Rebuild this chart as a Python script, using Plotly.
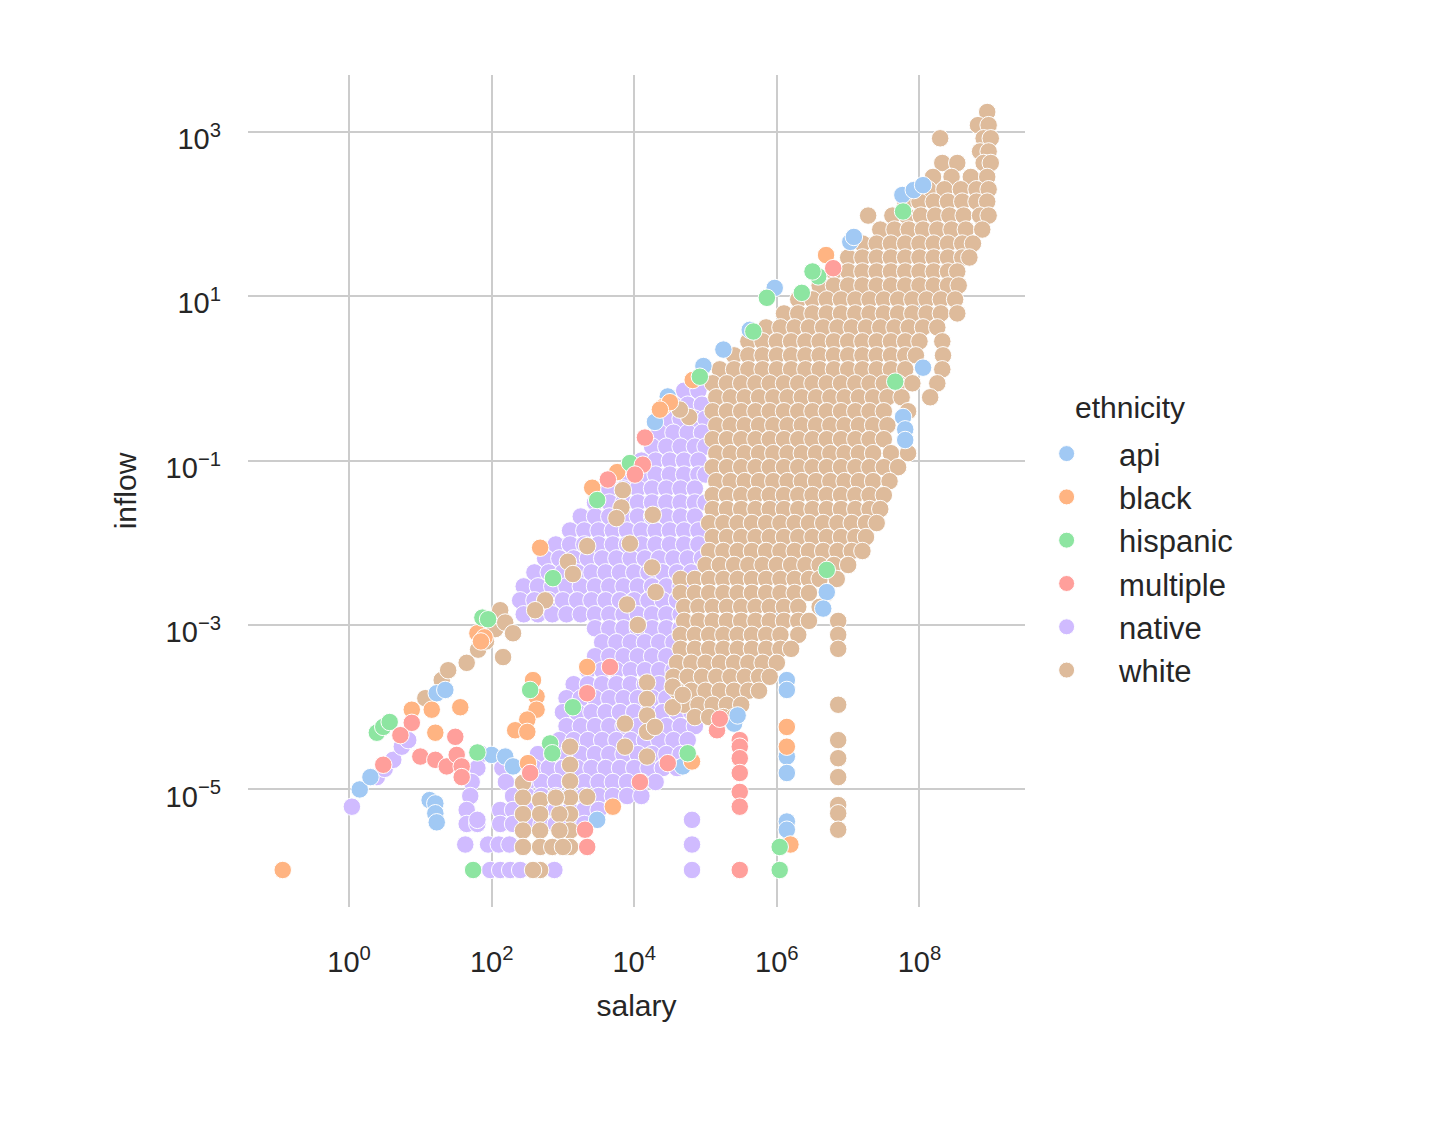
import numpy as np
import plotly.graph_objects as go

# all values below are log10(salary), log10(inflow)

api_pts = [(0.15, -5.0), (0.3, -4.85), (1.13, -5.13), (1.21, -5.17), (1.21, -5.29), (1.23, -5.4),
           (1.23, -3.83), (1.35, -3.79), (2.0, -4.58), (2.19, -4.6), (2.3, -4.72), (4.68, -4.72),
           (5.4, -4.2), (5.45, -4.1), (6.14, -3.67), (6.14, -3.79), (6.14, -4.6), (6.14, -4.8),
           (6.14, -5.39), (6.14, -5.49), (5.97, 1.1), (7.03, 1.66), (7.08, 1.72), (5.62, 0.59),
           (5.25, 0.35), (4.97, 0.15), (4.47, -0.22), (4.29, -0.53), (8.05, 0.13), (7.77, -0.47),
           (7.8, -0.62), (7.8, -0.75), (7.76, 2.23), (7.92, 2.29), (8.05, 2.35), (3.48, -5.37),
           (6.7, -2.6), (6.65, -2.8)]

black_pts = [(-0.93, -5.98), (1.56, -4.0), (1.21, -4.31), (1.16, -4.03), (0.88, -4.03),
             (1.8, -3.1), (1.9, -3.15), (1.85, -3.2), (2.58, -3.67), (2.63, -3.87), (2.63, -4.03),
             (2.5, -4.15), (2.33, -4.28), (2.5, -4.3), (2.51, -4.68), (3.34, -3.51), (4.81, -4.66),
             (3.7, -5.21), (6.14, -4.24), (6.14, -4.48), (6.19, -5.67), (6.69, 1.5), (4.4, -0.35),
             (4.5, -0.29), (4.82, -0.02), (3.41, -1.33), (3.76, -1.14), (2.68, -2.06), (4.36, -0.38)]

hispanic_pts = [(0.39, -4.31), (0.48, -4.24), (0.57, -4.18), (1.8, -4.55), (2.54, -3.79),
                (2.82, -4.44), (2.85, -4.56), (1.74, -5.98), (1.87, -2.91), (1.95, -2.93),
                (3.14, -4.0), (4.75, -4.56), (6.04, -5.7), (6.04, -5.98), (5.86, 0.98), (6.35, 1.04),
                (6.58, 1.24), (5.67, 0.57), (6.5, 1.3), (7.77, 2.03), (4.92, 0.02), (3.94, -1.03),
                (3.48, -1.48), (2.86, -2.43), (6.7, -2.33), (7.66, -0.04)]

multiple_pts = [(0.88, -4.19), (0.72, -4.34), (0.48, -4.7), (1.0, -4.6), (1.21, -4.64),
                (1.37, -4.72), (1.49, -4.36), (1.51, -4.58), (1.58, -4.72), (1.58, -4.85),
                (3.34, -3.83), (2.54, -4.8), (3.31, -5.49), (3.34, -5.7), (3.66, -3.51), (4.08, -4.91),
                (4.47, -4.68), (5.16, -4.28), (5.2, -4.14), (5.48, -4.4), (5.48, -4.48), (5.48, -4.62),
                (5.48, -4.8), (5.48, -5.03), (5.48, -5.21), (5.48, -5.98), (6.79, 1.34), (4.15, -0.72),
                (4.12, -1.05), (4.01, -1.17), (3.63, -1.23)]

native_rows = [
    (-0.15, [4.7, 4.9]),
    (-0.32, [4.55, 4.75, 4.95]),
    (-0.49, [4.45, 4.65, 4.85, 5.0]),
    (-0.66, [4.35, 4.55, 4.75, 4.95]),
    (-0.83, [4.25, 4.45, 4.65, 4.85, 5.0]),
    (-1.0, [4.1, 4.3, 4.5, 4.7, 4.9]),
    (-1.17, [3.9, 4.1, 4.3, 4.5, 4.7, 4.9, 5.0]),
    (-1.34, [3.65, 3.85, 4.05, 4.25, 4.45, 4.65, 4.85]),
    (-1.51, [3.45, 3.65, 3.85, 4.05, 4.25, 4.45, 4.65, 4.85, 5.0]),
    (-1.68, [3.25, 3.45, 3.65, 3.85, 4.05, 4.25, 4.45, 4.65, 4.85]),
    (-1.85, [3.1, 3.3, 3.5, 3.7, 3.9, 4.1, 4.3, 4.5, 4.7, 4.9]),
    (-2.02, [2.9, 3.1, 3.3, 3.5, 3.7, 3.9, 4.1, 4.3, 4.5, 4.7, 4.9]),
    (-2.19, [2.75, 2.95, 3.15, 3.35, 3.55, 3.75, 3.95, 4.15, 4.35, 4.55, 4.75, 4.95]),
    (-2.36, [2.6, 2.8, 3.0, 3.2, 3.4, 3.6, 3.8, 4.0, 4.2, 4.4, 4.6, 4.8]),
    (-2.53, [2.45, 2.65, 2.85, 3.05, 3.25, 3.45, 3.65, 3.85, 4.05, 4.25, 4.45, 4.65]),
    (-2.7, [2.4, 2.6, 2.8, 3.0, 3.2, 3.4, 3.6, 3.8, 4.0, 4.2, 4.4, 4.6]),
    (-2.87, [2.45, 2.65, 2.85, 3.05, 3.25, 3.45, 3.65, 3.85, 4.05, 4.25, 4.45, 4.65]),
    (-3.04, [3.45, 3.65, 3.85, 4.05, 4.25, 4.45, 4.65]),
    (-3.21, [3.55, 3.75, 3.95, 4.15, 4.35, 4.55]),
    (-3.38, [3.45, 3.65, 3.85, 4.05, 4.25, 4.45]),
    (-3.55, [3.35, 3.55, 3.75, 3.95, 4.15, 4.35, 4.55]),
    (-3.72, [3.15, 3.35, 3.55, 3.75, 3.95, 4.15, 4.35, 4.55]),
    (-3.89, [3.05, 3.25, 3.45, 3.65, 3.85, 4.05, 4.25, 4.45, 4.65]),
    (-4.06, [3.0, 3.2, 3.4, 3.6, 3.8, 4.0, 4.2, 4.4, 4.6, 4.8]),
    (-4.23, [3.05, 3.25, 3.45, 3.65, 3.85, 4.05, 4.25, 4.45, 4.65, 4.85]),
    (-4.4, [2.95, 3.15, 3.35, 3.55, 3.75, 3.95, 4.15, 4.35, 4.55, 4.75]),
    (-4.57, [1.85, 2.65, 2.85, 3.05, 3.25, 3.45, 3.65, 3.85, 4.05, 4.25, 4.45, 4.65]),
    (-4.74, [1.8, 2.15, 2.6, 2.8, 3.0, 3.2, 3.4, 3.6, 3.8, 4.0, 4.2, 4.4, 4.6]),
    (-4.91, [1.72, 2.2, 2.5, 2.7, 2.9, 3.1, 3.3, 3.5, 3.7, 3.9, 4.1, 4.3]),
    (-5.08, [1.7, 2.3, 2.5, 2.7, 2.9, 3.1, 3.3, 3.5, 3.7, 3.9, 4.1]),
    (-5.25, [1.65, 2.12, 2.3, 2.5, 2.7, 2.9, 3.1, 3.3, 3.5]),
    (-5.42, [1.65, 1.8, 2.12, 2.3, 2.5, 2.7, 2.9, 3.1, 3.3]),
    (-5.67, [1.63, 1.95, 2.1, 2.25, 4.81]),
    (-5.98, [1.98, 2.12, 2.26, 2.4, 2.88, 4.81]),
]
native_extra = [(0.04, -5.21), (0.39, -4.85), (0.5, -4.75), (0.62, -4.64), (0.74, -4.48),
                (0.83, -4.4), (4.81, -5.37), (1.8, -5.37)]

white_rows = [
    (3.24, [8.95]),
    (3.08, [8.82, 8.97]),
    (2.92, [8.29, 8.9, 9.0]),
    (2.76, [8.85, 8.97]),
    (2.62, [8.32, 8.53, 8.9, 9.0]),
    (2.45, [8.19, 8.45, 8.72, 8.95]),
    (2.3, [7.95, 8.12, 8.35, 8.58, 8.8, 8.97]),
    (2.15, [7.8, 8.0, 8.2, 8.4, 8.6, 8.8, 8.95]),
    (1.98, [7.28, 7.62, 7.82, 8.02, 8.22, 8.42, 8.62, 8.85, 8.97]),
    (1.81, [7.45, 7.65, 7.85, 8.05, 8.25, 8.45, 8.65, 8.88]),
    (1.64, [7.2, 7.4, 7.6, 7.8, 8.0, 8.2, 8.4, 8.6, 8.75]),
    (1.47, [7.0, 7.2, 7.4, 7.6, 7.8, 8.0, 8.2, 8.4, 8.6, 8.7]),
    (1.3, [6.8, 7.0, 7.2, 7.4, 7.6, 7.8, 8.0, 8.2, 8.4, 8.53]),
    (1.13, [6.6, 6.8, 7.0, 7.2, 7.4, 7.6, 7.8, 8.0, 8.2, 8.4, 8.55]),
    (0.96, [6.3, 6.5, 6.7, 6.9, 7.1, 7.3, 7.5, 7.7, 7.9, 8.1, 8.3, 8.5]),
    (0.79, [6.1, 6.3, 6.5, 6.7, 6.9, 7.1, 7.3, 7.5, 7.7, 7.9, 8.1, 8.3, 8.53]),
    (0.62, [5.85, 6.05, 6.25, 6.45, 6.65, 6.85, 7.05, 7.25, 7.45, 7.65, 7.85, 8.05, 8.25]),
    (0.45, [5.6, 5.8, 6.0, 6.2, 6.4, 6.6, 6.8, 7.0, 7.2, 7.4, 7.6, 7.8, 8.0, 8.32]),
    (0.28, [5.4, 5.6, 5.8, 6.0, 6.2, 6.4, 6.6, 6.8, 7.0, 7.2, 7.4, 7.6, 7.8, 7.95, 8.33]),
    (0.11, [5.2, 5.4, 5.6, 5.8, 6.0, 6.2, 6.4, 6.6, 6.8, 7.0, 7.2, 7.4, 7.6, 7.8, 8.32]),
    (-0.06, [5.1, 5.3, 5.5, 5.7, 5.9, 6.1, 6.3, 6.5, 6.7, 6.9, 7.1, 7.3, 7.5, 7.7, 7.9, 8.25]),
    (-0.23, [5.15, 5.35, 5.55, 5.75, 5.95, 6.15, 6.35, 6.55, 6.75, 6.95, 7.15, 7.35, 7.55, 7.75, 8.15]),
    (-0.4, [5.1, 5.3, 5.5, 5.7, 5.9, 6.1, 6.3, 6.5, 6.7, 6.9, 7.1, 7.3, 7.5, 7.84]),
    (-0.57, [5.15, 5.35, 5.55, 5.75, 5.95, 6.15, 6.35, 6.55, 6.75, 6.95, 7.15, 7.35, 7.55]),
    (-0.74, [5.1, 5.3, 5.5, 5.7, 5.9, 6.1, 6.3, 6.5, 6.7, 6.9, 7.1, 7.3, 7.5]),
    (-0.91, [5.15, 5.35, 5.55, 5.75, 5.95, 6.15, 6.35, 6.55, 6.75, 6.95, 7.15, 7.35, 7.6, 7.84]),
    (-1.08, [5.1, 5.3, 5.5, 5.7, 5.9, 6.1, 6.3, 6.5, 6.7, 6.9, 7.1, 7.3, 7.5, 7.7]),
    (-1.25, [5.15, 5.35, 5.55, 5.75, 5.95, 6.15, 6.35, 6.55, 6.75, 6.95, 7.15, 7.35, 7.58]),
    (-1.42, [5.1, 5.3, 5.5, 5.7, 5.9, 6.1, 6.3, 6.5, 6.7, 6.9, 7.1, 7.3, 7.5]),
    (-1.59, [5.1, 5.3, 5.5, 5.7, 5.9, 6.1, 6.3, 6.5, 6.7, 6.9, 7.1, 7.3, 7.45]),
    (-1.76, [5.05, 5.25, 5.45, 5.65, 5.85, 6.05, 6.25, 6.45, 6.65, 6.85, 7.05, 7.25, 7.4]),
    (-1.93, [5.1, 5.3, 5.5, 5.7, 5.9, 6.1, 6.3, 6.5, 6.7, 6.9, 7.1, 7.25]),
    (-2.1, [5.05, 5.25, 5.45, 5.65, 5.85, 6.05, 6.25, 6.45, 6.65, 6.85, 7.05, 7.2]),
    (-2.27, [5.0, 5.2, 5.4, 5.6, 5.8, 6.0, 6.2, 6.4, 6.6, 6.8, 7.0]),
    (-2.44, [4.65, 4.85, 5.05, 5.25, 5.45, 5.65, 5.85, 6.05, 6.25, 6.45, 6.6, 6.84]),
    (-2.61, [4.65, 4.85, 5.05, 5.25, 5.45, 5.65, 5.85, 6.05, 6.25, 6.45, 6.7]),
    (-2.78, [4.7, 4.9, 5.1, 5.3, 5.5, 5.7, 5.9, 6.1, 6.3, 6.6]),
    (-2.95, [4.7, 4.9, 5.1, 5.3, 5.5, 5.7, 5.9, 6.1, 6.3, 6.45, 6.86]),
    (-3.12, [4.65, 4.85, 5.05, 5.25, 5.45, 5.65, 5.85, 6.05, 6.3, 6.86]),
    (-3.29, [4.65, 4.85, 5.05, 5.25, 5.45, 5.65, 5.85, 6.05, 6.2, 6.86]),
    (-3.46, [4.6, 4.8, 5.0, 5.2, 5.4, 5.6, 5.8, 6.0]),
    (-3.63, [4.55, 4.75, 4.95, 5.15, 5.35, 5.55, 5.75, 5.9]),
    (-3.8, [4.6, 4.8, 5.0, 5.2, 5.4, 5.6, 5.75]),
    (-3.97, [4.7, 4.9, 5.1, 5.3, 5.5, 6.86]),
    (-4.12, [4.85, 5.05, 5.25, 5.4]),
]
white_extra = [(1.07, -3.89), (1.3, -3.67), (1.39, -3.55), (1.65, -3.46), (1.81, -3.3), (1.92, -3.2),
               (2.05, -3.05), (2.12, -2.82), (2.19, -2.97), (2.3, -3.1), (2.16, -3.39),
               (3.84, -1.36), (3.82, -1.57), (3.75, -1.7), (4.26, -1.66), (3.34, -2.04), (3.94, -2.01),
               (3.07, -2.23), (3.14, -2.38), (2.75, -2.7), (2.61, -2.82), (4.77, -0.47), (4.64, -0.38),
               (4.25, -2.3), (4.3, -2.6), (3.9, -2.75), (4.05, -3.0),
               (2.44, -4.92), (2.44, -5.1), (2.44, -5.3), (2.44, -5.5), (2.44, -5.7),
               (2.68, -5.13), (2.68, -5.3), (2.68, -5.5), (2.68, -5.7), (2.68, -5.98), (2.58, -5.98),
               (3.1, -4.48), (3.1, -4.7), (3.1, -4.9), (3.1, -5.1), (3.1, -5.3), (3.1, -5.5), (3.1, -5.7),
               (3.34, -5.09), (2.95, -5.3), (2.95, -5.5), (2.85, -5.7), (3.0, -5.7), (2.9, -5.1),
               (4.18, -3.7), (4.18, -3.9), (4.18, -4.1), (4.18, -4.3), (4.18, -4.6), (3.87, -4.2),
               (3.87, -4.48), (4.29, -4.24), (4.54, -3.75), (4.54, -4.0), (4.68, -3.85),
               (6.86, -4.4), (6.86, -4.62), (6.86, -4.85), (6.86, -5.19), (6.86, -5.29), (6.86, -5.49)]

xtick_exp = [0, 2, 4, 6, 8]
ytick_exp = [3, 1, -1, -3, -5]

colors = {"api": "#a1c9f4", "black": "#ffb482", "hispanic": "#8de5a1",
          "multiple": "#ff9f9b", "native": "#d0bbff", "white": "#debb9b"}
legend_order = ["api", "black", "hispanic", "multiple", "native", "white"]


def from_rows(rows, extra):
    pts = [(lx, ly) for ly, xs in rows for lx in xs] + list(extra)
    return pts


groups = {
    "native": from_rows(native_rows, native_extra),
    "white": from_rows(white_rows, white_extra),
    "api": api_pts,
    "black": black_pts,
    "hispanic": hispanic_pts,
    "multiple": multiple_pts,
}

fig = go.Figure()
# big groups drawn first so the scattered ones stay visible on top
for name in ["native", "white", "api", "black", "hispanic", "multiple"]:
    pts = np.array(groups[name])
    fig.add_trace(go.Scatter(
        x=10 ** pts[:, 0], y=10 ** pts[:, 1], mode="markers", name=name,
        legendrank=legend_order.index(name) + 1,
        marker=dict(size=17.5, color=colors[name], line=dict(width=1, color="white"))))

def sup(k):
    return "10<sup>" + str(k).replace("-", "\u2212") + "</sup>"

font_color = "#262626"
fig.update_xaxes(type="log", range=[-1.417, 9.48],
                 tickvals=[10.0 ** k for k in xtick_exp], ticktext=[sup(k) for k in xtick_exp],
                 showgrid=True, gridcolor="#cccccc", gridwidth=2, zeroline=False, showline=False,
                 ticks="", ticklabelstandoff=35, tickfont=dict(size=29, color=font_color),
                 title=dict(text="salary", font=dict(size=30, color=font_color), standoff=17))
fig.update_yaxes(type="log", range=[-6.43, 3.69],
                 tickvals=[10.0 ** k for k in ytick_exp], ticktext=[sup(k) for k in ytick_exp],
                 showgrid=True, gridcolor="#cccccc", gridwidth=2, zeroline=False, showline=False,
                 ticks="", ticklabelstandoff=26, ticklabelshift=7,
                 tickfont=dict(size=29, color=font_color),
                 title=dict(text="inflow", font=dict(size=30, color=font_color), standoff=20))

# page body has an 8px margin, so the figure is a bit smaller than the window
fig.update_layout(
    width=1438, height=1126,
    margin=dict(l=240, r=421, t=67, b=227),
    plot_bgcolor="white", paper_bgcolor="white",
    font=dict(family="Liberation Sans, Arial, sans-serif", color=font_color),
    legend=dict(font=dict(size=31), itemwidth=95, x=0.986, xanchor="left",
                y=0.577, yanchor="top", bgcolor="rgba(0,0,0,0)"),
    annotations=[dict(text="ethnicity", xref="paper", yref="paper", x=1.062, y=0.600,
                      xanchor="left", yanchor="middle", showarrow=False,
                      font=dict(size=30, color=font_color))],
    showlegend=True,
)

fig.write_html("out.html")
